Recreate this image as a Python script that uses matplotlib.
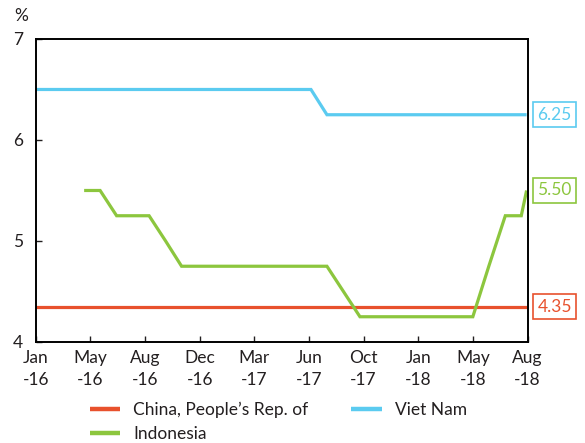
import matplotlib
matplotlib.use("Agg")
import matplotlib.pyplot as plt
import matplotlib.dates as mdates
import numpy as np
import pandas as pd

plt.rcParams["font.family"] = ["Lato", "DejaVu Sans"]

# Monthly observations (first of month), plus the latest reading
dates = list(pd.date_range("2016-01-01", "2018-07-01", freq="MS")) + [pd.Timestamp("2018-07-11")]
axis_end = pd.Timestamp("2018-07-13")

china = [4.35, 4.35, 4.35, 4.35, 4.35, 4.35, 4.35, 4.35, 4.35, 4.35, 4.35,
         4.35, 4.35, 4.35, 4.35, 4.35, 4.35, 4.35, 4.35, 4.35, 4.35, 4.35,
         4.35, 4.35, 4.35, 4.35, 4.35, 4.35, 4.35, 4.35, 4.35, 4.35]
viet_nam = [6.50, 6.50, 6.50, 6.50, 6.50, 6.50, 6.50, 6.50, 6.50, 6.50, 6.50,
            6.50, 6.50, 6.50, 6.50, 6.50, 6.50, 6.50, 6.25, 6.25, 6.25, 6.25,
            6.25, 6.25, 6.25, 6.25, 6.25, 6.25, 6.25, 6.25, 6.25, 6.25]
indonesia = [np.nan, np.nan, np.nan, 5.50, 5.50, 5.25, 5.25, 5.25, 5.00, 4.75, 4.75,
             4.75, 4.75, 4.75, 4.75, 4.75, 4.75, 4.75, 4.75, 4.50, 4.25, 4.25,
             4.25, 4.25, 4.25, 4.25, 4.25, 4.25, 4.75, 5.25, 5.25, 5.50]

tick_labels = ["Jan\n-16", "May\n-16", "Aug\n-16", "Dec\n-16", "Mar\n-17",
               "Jun\n-17", "Oct\n-17", "Jan\n-18", "May\n-18", "Aug\n-18"]

series = [
    ("China, People\u2019s Rep. of", china, "#e8512d"),
    ("Indonesia", indonesia, "#8cc63e"),
    ("Viet Nam", viet_nam, "#5bcbf0"),
]

text_color = "#231f20"
fs = 12.5

fig = plt.figure(figsize=(5.85, 4.43), dpi=100)
ax = fig.add_axes([0.061, 0.228, 0.841, 0.684])

for name, vals, col in series:
    ax.plot(dates, vals, color=col, lw=2.3, label=name, solid_capstyle="butt",
            solid_joinstyle="miter")

x0, x1 = mdates.date2num(dates[0]), mdates.date2num(axis_end)
ax.set_xlim(x0, x1)
ax.set_ylim(4, 7)
ax.set_xticks(np.linspace(x0, x1, len(tick_labels)))
ax.set_xticklabels(tick_labels, linespacing=1.5)
ax.set_yticks([4, 5, 6, 7])
ax.set_yticklabels(["4", "5", "6", "7"])

ax.tick_params(axis="both", direction="in", length=4, width=1, colors=text_color,
               labelsize=fs, labelcolor=text_color)
ax.tick_params(axis="x", pad=5.5)
ax.tick_params(axis="y", pad=9)
for s in ax.spines.values():
    s.set_linewidth(1.4)
    s.set_color("black")

fig.text(0.024, 0.963, "%", fontsize=fs, color=text_color, va="center", ha="left")

# Latest value boxes to the right of the plot
for name, vals, col in series:
    v = vals[-1]
    ax.annotate(f"{v:.2f}", xy=(1, v), xycoords=("axes fraction", "data"),
                xytext=(7, 0), textcoords="offset points", ha="left", va="center",
                fontsize=fs, color=col, annotation_clip=False,
                bbox=dict(boxstyle="square,pad=0.25", fc="white", ec=col, lw=1.2))

handles, labels = ax.get_legend_handles_labels()
leg = fig.legend(handles, labels, ncol=2, loc="upper left",
                 bbox_to_anchor=(0.139, 0.112), frameon=False, fontsize=fs,
                 handlelength=1.75, handletextpad=0.75, columnspacing=2.45,
                 labelspacing=0.45, borderpad=0)
for t in leg.get_texts():
    t.set_color(text_color)
for h in leg.get_lines():
    h.set_linewidth(3.2)

fig.savefig("out.png", dpi=100)
